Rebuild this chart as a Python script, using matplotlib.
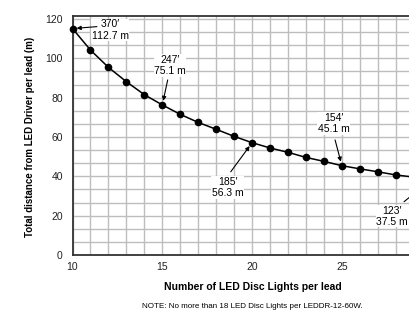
import numpy as np
import matplotlib
matplotlib.use("Agg")
import matplotlib.pyplot as plt

plt.rcParams['font.family'] = ['Liberation Sans', 'DejaVu Sans']

n_lights = [10, 11, 12, 13, 14, 15, 16, 17, 18, 19, 20, 21, 22, 23, 24, 25, 26, 27, 28, 29, 30]
distance_m = [115.1, 104.2, 95.4, 88.1, 81.5, 76.3, 71.5, 67.4, 63.9, 60.3, 57.1,
              54.4, 52.2, 49.6, 47.6, 45.4, 43.8, 42.3, 40.7, 39.6, 38.5]

x_tick_labels = ["10", "15", "20", "25"]
y_tick_labels = ["0", "20", "40", "60", "80", "100", "120"]

# callouts: label, point the arrow goes to, arrow tail, text centre
ann_labels = ["370\u2032\n112.7 m", "247\u2032\n75.1 m", "185\u2032\n56.3 m", "154\u2032\n45.1 m", "123\u2032\n37.5 m"]
ann_points = [(10, 115.1), (15, 76.3), (20, 57.1), (25, 45.4), (30, 38.5)]
ann_tails = [(11.36, 116.1), (15.30, 89.0), (18.81, 42.3), (24.62, 58.5), (28.46, 27.1)]
ann_text_pos = [(12.09, 114.4), (15.43, 96.3), (18.64, 34.3), (24.55, 66.8), (27.8, 19.7)]

fig = plt.figure(figsize=(4.09, 3.10), dpi=100)
ax = fig.add_axes([72.5/409, 55/310, 359.2/409, 239/310])

ax.set_xlim(10, 30)
ax.set_ylim(0, 121.5)
ax.set_xticks(np.arange(10, 31, 1), minor=True)
ax.set_xticks([10, 15, 20, 25])
ax.set_xticklabels(x_tick_labels)
ax.set_yticks(np.arange(0, 121, 20 / 3), minor=True)
ax.set_yticks([0, 20, 40, 60, 80, 100, 120])
ax.set_yticklabels(y_tick_labels)
ax.grid(True, which='both', color='#bdbdbd', linewidth=1.0)
ax.set_axisbelow(True)
ax.tick_params(which='both', length=0, labelsize=7.5, colors='#222222')
ax.tick_params(axis='y', pad=7)
ax.tick_params(axis='x', pad=5)
for s in ax.spines.values():
    s.set_color('#333333')
    s.set_linewidth(1.3)

ax.plot(n_lights, distance_m, color='black', linewidth=1.1, marker='o',
        markersize=4.5, clip_on=False, zorder=3)

for lab, (px, py), tail, (tx, ty) in zip(ann_labels, ann_points, ann_tails, ann_text_pos):
    ax.text(tx, ty, lab, ha='center', va='center', fontsize=7.5, linespacing=1.15,
            clip_on=False, zorder=4,
            bbox=dict(boxstyle='square,pad=0.05', fc='white', ec='none'))
    ax.annotate("", xy=(px, py), xytext=tail,
                arrowprops=dict(arrowstyle='-|>', color='black', lw=0.8,
                                mutation_scale=6, shrinkA=0, shrinkB=3),
                annotation_clip=False, zorder=4)

fig.text(30/409, 1 - 137/310, "Total distance from LED Driver per lead (m)", rotation=90,
         ha='center', va='center', fontsize=7, fontweight='bold')
fig.text(253/409, 1 - 287.5/310, "Number of LED Disc Lights per lead",
         ha='center', va='center', fontsize=7.5, fontweight='bold')
fig.text(252/409, 1 - 306/310, "NOTE: No more than 18 LED Disc Lights per LEDDR-12-60W.",
         ha='center', va='center', fontsize=5.8)

fig.savefig("out.png", dpi=100)
